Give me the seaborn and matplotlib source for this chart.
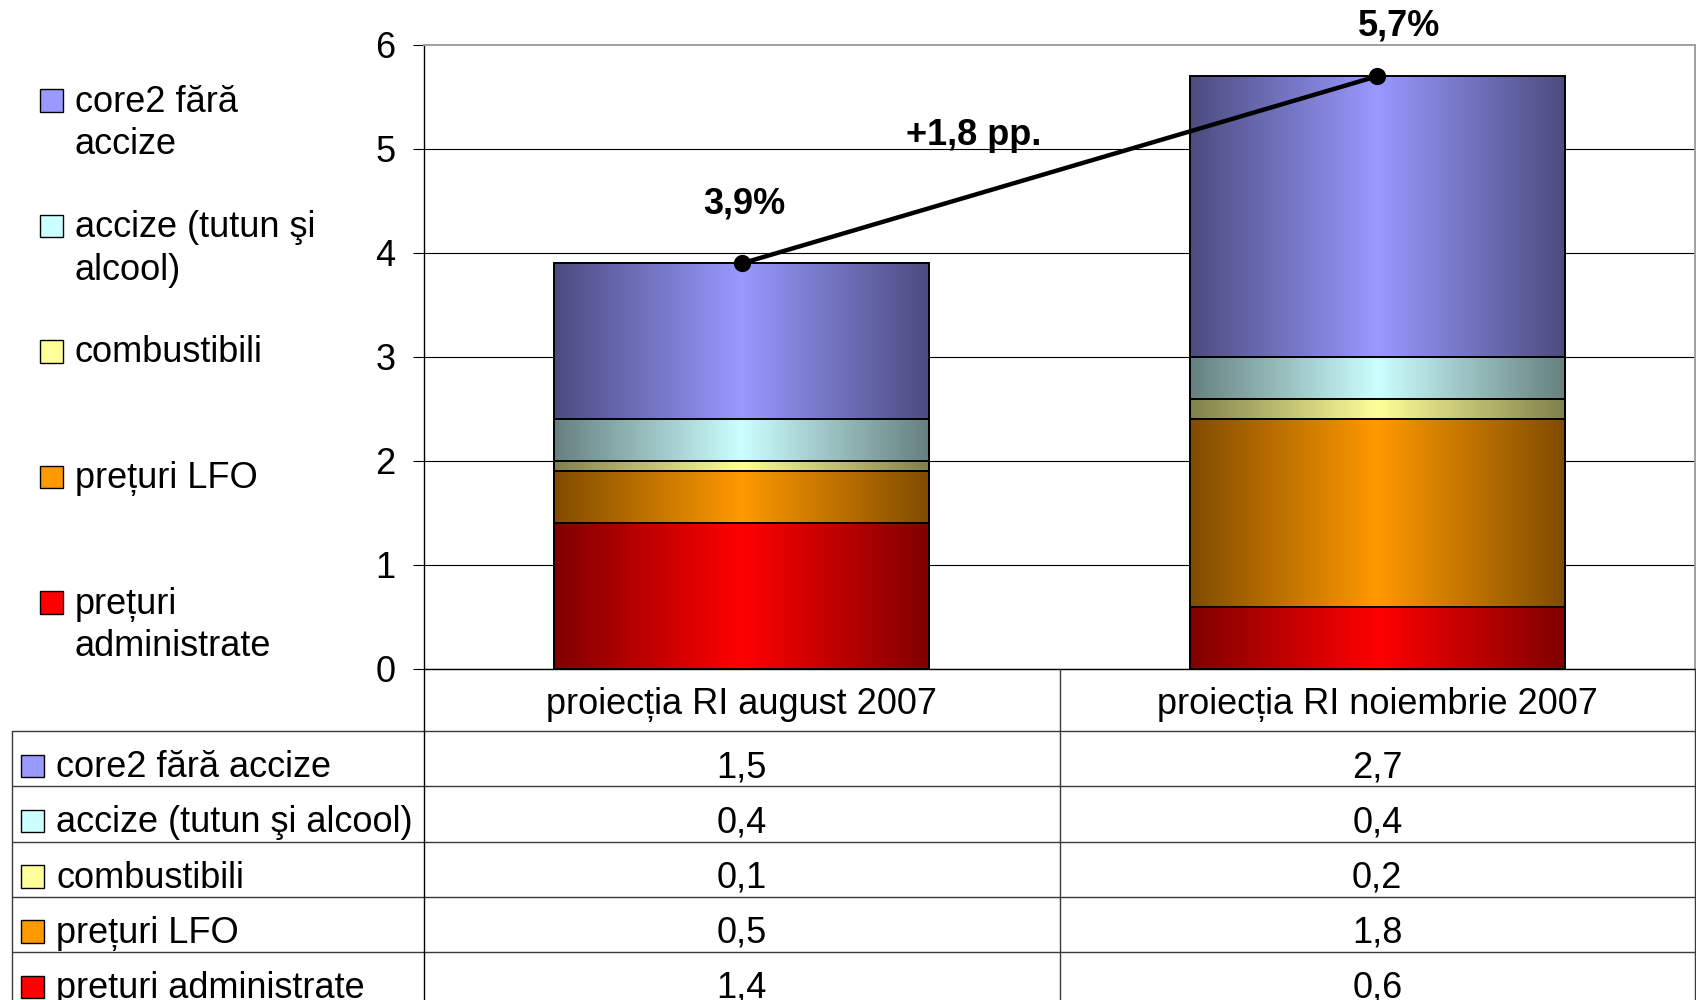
import textwrap

import numpy as np
import matplotlib
matplotlib.use("Agg")
import matplotlib.pyplot as plt
import seaborn as sns
from matplotlib.colors import to_rgb
from matplotlib.lines import Line2D
from matplotlib.patches import Rectangle
from matplotlib.transforms import Affine2D, blended_transform_factory

# ---- data -------------------------------------------------------------
categories = ["proiecția RI august 2007", "proiecția RI noiembrie 2007"]

# stack order, bottom to top
components = [
    "prețuri administrate",
    "prețuri LFO",
    "combustibili",
    "accize (tutun şi alcool)",
    "core2 fără accize",
]
administrate = [1.4, 0.6]
lfo = [0.5, 1.8]
combustibili = [0.1, 0.2]
accize = [0.4, 0.4]
core2 = [1.5, 2.7]
totals = [3.9, 5.7]

yticks = [0, 1, 2, 3, 4, 5, 6]

# centre (bright) and edge (dark) shades of each component
bright = ["#FF0000", "#FF9900", "#FFFF99", "#CCFFFF", "#9999FF"]
dark = ["#800000", "#804C00", "#80804C", "#668080", "#4C4C80"]

series = [administrate, lfo, combustibili, accize, core2]

# ---- style --------------------------------------------------------------
sns.set_style("white")
plt.rcParams["font.family"] = ["Liberation Sans", "DejaVu Sans"]
plt.rcParams["text.color"] = "black"
plt.rcParams["axes.labelcolor"] = "black"
plt.rcParams["xtick.color"] = "black"
plt.rcParams["ytick.color"] = "black"
FS = 26

W, H = 1696, 1000
fig = plt.figure(figsize=(W / 100, H / 100), dpi=100)
# pixel coordinates measured from the top-left corner of the canvas
pix = Affine2D().scale(1 / W, -1 / H).translate(0, 1) + fig.transFigure

ax = fig.add_axes([424 / W, 1 - 669 / H, (1695 - 424) / W, (669 - 45) / H])


def shade(i, n=256):
    """Horizontal gradient: dark at both edges, bright in the middle."""
    t = np.linspace(0, 1, n)
    w = 1 - np.abs(2 * t - 1)
    c0 = np.array(to_rgb(dark[i]))
    c1 = np.array(to_rgb(bright[i]))
    return (c0[None, :] + (c1 - c0)[None, :] * w[:, None])[None, :, :]


# ---- stacked bars (cumulative bars drawn from the top segment down) -----
cum = np.cumsum(np.array(series), axis=0)
for i in reversed(range(len(series))):
    n0 = len(ax.patches)
    sns.barplot(x=categories, y=cum[i], color=bright[i], width=0.59,
                edgecolor="black", linewidth=1.4, ax=ax, zorder=3)
    for j, p in enumerate(ax.patches[n0:]):
        x0, w, top = p.get_x(), p.get_width(), p.get_height()
        ax.imshow(shade(i), extent=[x0, x0 + w, top - series[i][j], top],
                  aspect="auto", interpolation="bilinear", zorder=2)
        p.set_facecolor("none")

# ---- totals line ---------------------------------------------------------
sns.pointplot(x=categories, y=totals, color="black", errorbar=None,
              marker="o", markersize=10, linewidth=3.2, ax=ax, zorder=6)


def pct(v):
    return f"{v:.1f}".replace(".", ",")


ax.annotate(pct(totals[0]) + "%", xy=(0, totals[0]), xytext=(2, 36),
            textcoords="offset points", ha="center", va="baseline",
            fontsize=FS, fontweight="bold", color="black")
ax.annotate(pct(totals[1]) + "%", xy=(1, totals[1]), xytext=(15.5, 29),
            textcoords="offset points", ha="center", va="baseline",
            fontsize=FS, fontweight="bold", color="black")
ax.annotate("+" + pct(totals[1] - totals[0]) + " pp.",
            xy=(0.5, (totals[0] + totals[1]) / 2), xytext=(-62, 18),
            textcoords="offset points", ha="center", va="baseline",
            fontsize=FS, fontweight="bold", color="black")

# ---- axes ------------------------------------------------------------------
ax.set_xlim(-0.5, 1.5)
ax.set_ylim(0, 6)
ax.set_yticks(yticks)
ax.set_yticklabels([str(v) for v in yticks])
ax.set_xlabel("")
ax.set_ylabel("")
ax.set_axisbelow(True)
ax.yaxis.grid(True, color="black", linewidth=0.8)
ax.xaxis.grid(False)
ax.yaxis.get_gridlines()[-1].set_visible(False)
ax.tick_params(axis="y", direction="out", length=8, width=0.8, pad=12.5,
               labelsize=FS, color="black", labelcolor="black", left=True)
ax.tick_params(axis="x", length=0, pad=13, labelsize=FS, labelcolor="black")
for s in ("top", "right"):
    ax.spines[s].set_color("#a0a0a0")
    ax.spines[s].set_linewidth(1.4)
for s in ("left", "bottom"):
    ax.spines[s].set_color("black")
    ax.spines[s].set_linewidth(1.0)

# ---- legend on the left ----------------------------------------------------
for k, i in enumerate(reversed(range(len(components)))):
    base = 111.5 + k * 125.5
    fig.add_artist(Rectangle((40, base), 23, -22.5, transform=pix,
                             facecolor=bright[i], edgecolor="black",
                             linewidth=1.0))
    for m, line in enumerate(textwrap.wrap(components[i], 16)):
        fig.text(75, base + m * 43, line, transform=pix, fontsize=FS,
                 ha="left", va="baseline", color="black")

# ---- data table under the chart --------------------------------------------
grid_c = "#3a3a3a"
col_tf = blended_transform_factory(ax.transData, pix)
row_top = 731
row_h = 55.25
for k in range(6):
    y = row_top + k * row_h
    fig.add_artist(Line2D([12, 1695], [y, y], transform=pix,
                          color=grid_c, linewidth=1.0))
fig.add_artist(Line2D([12, 12], [row_top, H], transform=pix,
                      color=grid_c, linewidth=1.0))
fig.add_artist(Line2D([424, 424], [669, H], transform=pix,
                      color="black", linewidth=1.0))
for xc in (0.5, 1.5):
    fig.add_artist(Line2D([xc, xc], [669, H], transform=col_tf,
                          color=grid_c, linewidth=1.0))

for k, i in enumerate(reversed(range(len(components)))):
    base = row_top + k * row_h + 46
    fig.add_artist(Rectangle((21, base), 23, -22.5, transform=pix,
                             facecolor=bright[i], edgecolor="black",
                             linewidth=1.0))
    fig.text(56, base, components[i], transform=pix, fontsize=FS,
             ha="left", va="baseline", color="black")
    for j in range(len(categories)):
        fig.text(j, base, pct(series[i][j]), transform=col_tf, fontsize=FS,
                 ha="center", va="baseline", color="black")

fig.savefig("out.png", dpi=100)
